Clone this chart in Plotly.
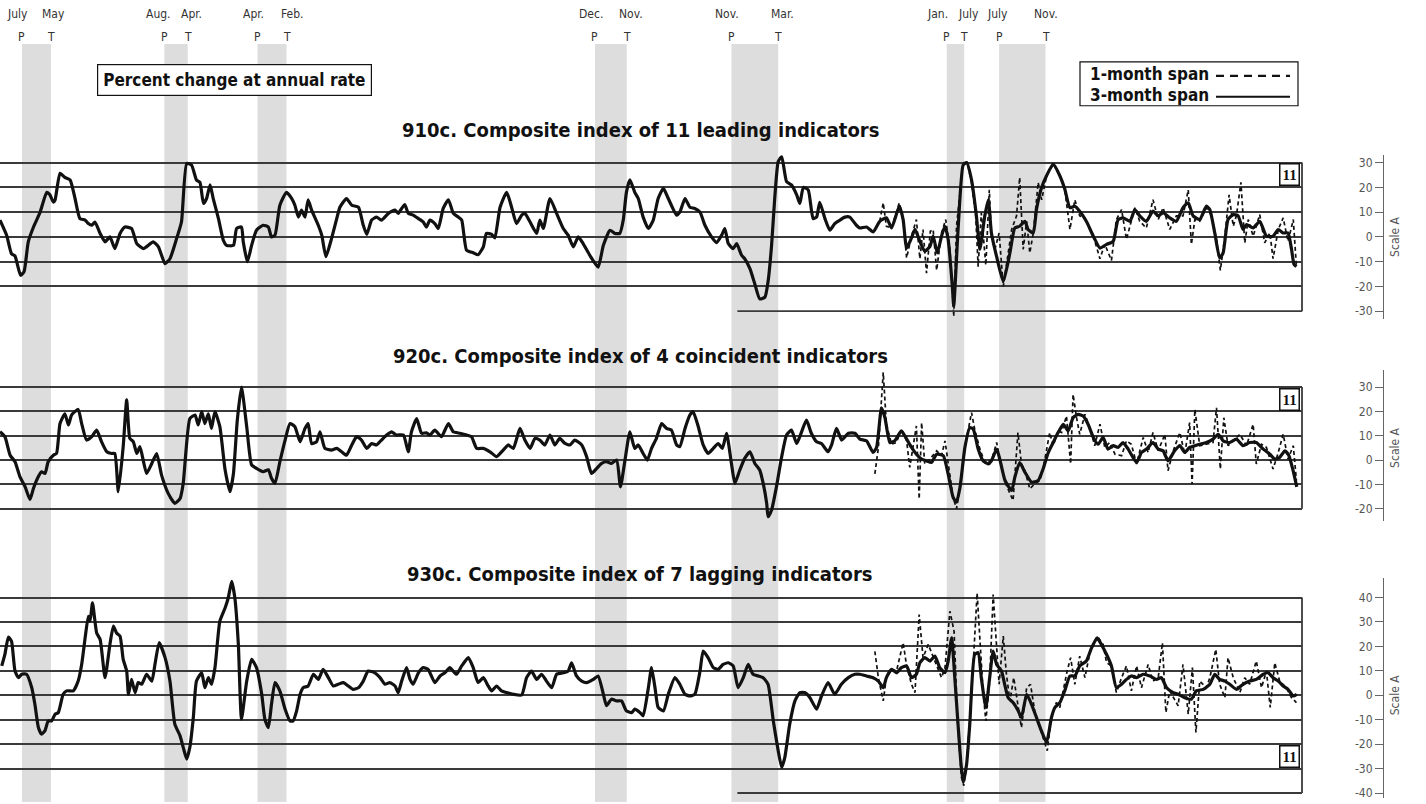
import plotly.graph_objects as go

# ---------------------------------------------------------------- data
# 910c  leading index, 3-month span (percent change at annual rate)
LEAD_3M_DATE = [
    1952.87, 1953.06, 1953.20, 1953.30, 1953.46, 1953.56, 1953.68, 1953.83, 1954.02, 1954.21,
    1954.30, 1954.40, 1954.45, 1954.59, 1954.73, 1954.88, 1955.02, 1955.16, 1955.31, 1955.40,
    1955.50, 1955.59, 1955.74, 1955.88, 1956.02, 1956.16, 1956.31, 1956.45, 1956.64, 1956.79,
    1956.98, 1957.26, 1957.41, 1957.60, 1957.74, 1957.93, 1958.07, 1958.22, 1958.36, 1958.50,
    1958.60, 1958.70, 1958.79, 1958.89, 1958.98, 1959.13, 1959.27, 1959.36, 1959.56, 1959.65,
    1959.79, 1959.84, 1959.96, 1960.08, 1960.22, 1960.41, 1960.56, 1960.65, 1960.75, 1960.89,
    1961.08, 1961.23, 1961.32, 1961.42, 1961.51, 1961.61, 1961.70, 1961.80, 1961.99, 1962.09,
    1962.21, 1962.37, 1962.52, 1962.61, 1962.80, 1962.95, 1963.14, 1963.28, 1963.38, 1963.52,
    1963.66, 1963.80, 1964.00, 1964.19, 1964.28, 1964.38, 1964.47, 1964.57, 1964.71, 1964.86,
    1965.00, 1965.09,
    1965.19, 1965.33, 1965.43, 1965.57, 1965.72, 1965.86, 1966.00, 1966.10, 1966.24, 1966.43,
    1966.57, 1966.72, 1966.81, 1966.96, 1967.05, 1967.20, 1967.39, 1967.53, 1967.67, 1967.82,
    1967.91, 1968.06, 1968.25, 1968.34, 1968.44, 1968.63, 1968.82, 1969.01, 1969.15, 1969.30,
    1969.44, 1969.58, 1969.77, 1970.01, 1970.16, 1970.35, 1970.49, 1970.63, 1970.73, 1970.82,
    1970.92, 1971.06, 1971.16, 1971.30, 1971.45, 1971.59, 1971.73, 1971.88, 1972.02, 1972.26,
    1972.35, 1972.50, 1972.64, 1972.78, 1972.93, 1973.07, 1973.26, 1973.40, 1973.55, 1973.64,
    1973.74, 1973.88, 1973.98, 1974.12, 1974.21, 1974.36, 1974.50, 1974.64, 1974.79, 1974.88,
    1974.98, 1975.07, 1975.17, 1975.27, 1975.41, 1975.55, 1975.70, 1975.79, 1975.89, 1976.03,
    1976.17, 1976.27, 1976.36, 1976.51, 1976.65, 1976.79, 1976.94, 1977.08, 1977.22, 1977.41,
    1977.51, 1977.70, 1977.89, 1978.08, 1978.27, 1978.42, 1978.64, 1978.75, 1978.85, 1978.99,
    1979.09, 1979.23, 1979.37, 1979.52, 1979.61, 1979.73, 1979.85, 1979.95, 1980.04, 1980.16,
    1980.20, 1980.33, 1980.47, 1980.57, 1980.71, 1980.85, 1980.95, 1981.09, 1981.19, 1981.28,
    1981.43, 1981.62, 1981.81, 1981.95, 1982.09, 1982.24, 1982.33, 1982.48, 1982.57, 1982.72,
    1982.86, 1983.05, 1983.24, 1983.38, 1983.53, 1983.67, 1983.81, 1984.00, 1984.20, 1984.39,
    1984.58, 1984.77, 1984.91, 1985.05, 1985.25, 1985.39, 1985.53, 1985.72, 1985.91, 1986.06,
    1986.20, 1986.39, 1986.58, 1986.77, 1986.92, 1987.06, 1987.25, 1987.44, 1987.54, 1987.68,
    1987.82, 1987.92, 1988.06, 1988.21, 1988.35, 1988.49, 1988.59, 1988.78, 1988.97, 1989.16,
    1989.35, 1989.50, 1989.64, 1989.78, 1989.88, 1989.95, 1990.02,
]
LEAD_3M = [
    6.8, 0.7, -6.8, -7.7, -15.5, -14, -2, 4, 10, 18,
    17, 14, 15, 25.7, 24, 23, 15.5, 7.4, 6.8, 5.4,
    4.7, 6, 1.4, -2, 0, -4.7, 1.4, 4, 3.4, -2.7,
    -4.7, -2, -4, -10.8, -8.8, -0.7, 6, 29.7, 29, 23,
    22, 13.5, 15.5, 21, 15.5, 7.4, -1.4, -3.4, -3.4, 3.4,
    4, -2, -10, -3.4, 2.7, 4.7, 4, 0, 0.7, 12.8,
    18, 15.5, 12.8, 8, 10.8, 8, 15, 10.8, 4.7, 0.7,
    -8, -0.7, 7.4, 12, 15.5, 12.8, 12, 4.7, 1, 6.8,
    8, 6.8, 9.5, 10.8, 9.5, 11.5, 13, 9.5, 8.8, 7.4,
    6, 4,
    6.8, 5.4, 3.4, 11.5, 15, 9.5, 8, 6.8, -5.4, -6.4,
    -7.2, -4, 1.4, 1, -0.4, 12, 18, 12, 5.4, 8.8,
    9.5, 6, 1.4, 6.8, 3.4, 15.5, 9.5, 3.4, 0.7, -4,
    0, -2.7, -7.4, -12.2, -3.4, 2.7, 1.4, 1.4, 6.8, 18,
    23, 18, 15.5, 8, 3.4, 6.8, 15.5, 19.6, 15.5, 8.8,
    10, 15.5, 12, 11.5, 10, 4.7, 0, -2.3, 0.7, 3.4,
    -2.7, -4.7, -2.7, -7.4, -8.8, -12.8, -19, -25, -24.3, -18,
    -3.4, 15.5, 30.4, 32.4, 22.3, 21, 17, 13.5, 20, 19,
    7.4, 8, 14, 7.4, 2.7, 5.4, 6.8, 8, 8, 4.7,
    3.6, 4, 2, 6.3, 7.7, 3.6, 12.4, 7, -4.5, -0.4,
    3, -1.8, -5.8, -3.8, 0.3, -6.5, 0.3, 4.3, -1, -20,
    -28, 4.3, 29, 30, 23, 8.5, -5, 8.5, 15, 1.6,
    -8, -18, -6.5, 3.6, 4.3, 6.3, 3, 1.6, 11, 20,
    24.7, 29.4, 24.7, 19.4, 11.8, 12.4, 10.4, 6.3, 0.3, -4.5,
    -3, -1.8, 7, 7.7, 6.3, 11, 8.5, 6.3, 10.4, 8.5,
    9.8, 7.7, 6.3, 11.8, 13.8, 8.5, 7, 12.4, 11, 1.6,
    -8.5, -6.5, 7, 9, 8.5, 3, 5, 3.6, 6.3, 0.3,
    0.3, 3, 1.6, 1.6, -5, -11, -12,
]
# 910c  leading index, 1-month span
LEAD_1M_DATE = [
    1978.08, 1978.18, 1978.27, 1978.42, 1978.64, 1978.75, 1978.85, 1978.99, 1979.13, 1979.23,
    1979.32, 1979.42, 1979.53, 1979.61, 1979.71, 1979.85, 1979.97, 1980.09, 1980.16, 1980.20,
    1980.28, 1980.47, 1980.59, 1980.71, 1980.83, 1980.90, 1980.99, 1981.12, 1981.22, 1981.28,
    1981.38, 1981.50, 1981.62, 1981.73, 1981.86, 1982.00, 1982.09, 1982.19, 1982.29, 1982.38,
    1982.48, 1982.62, 1982.72, 1982.86, 1983.05, 1983.24, 1983.38, 1983.53, 1983.67, 1983.81,
    1983.96, 1984.20, 1984.39, 1984.53, 1984.72, 1984.86, 1985.01, 1985.15, 1985.29, 1985.39,
    1985.53, 1985.72, 1985.91, 1986.06, 1986.20, 1986.39, 1986.58, 1986.77, 1986.92, 1987.01,
    1987.11, 1987.25, 1987.44, 1987.59, 1987.73, 1987.84, 1987.97, 1988.09, 1988.21, 1988.30,
    1988.43, 1988.54, 1988.64, 1988.78, 1988.97, 1989.11, 1989.26, 1989.35, 1989.50, 1989.64,
    1989.78, 1989.93, 1990.02,
]
LEAD_1M = [
    6.3, 13.8, 4.3, 3.6, 13.8, 7, -8.5, 0.3, 7, -8.8,
    3, -14.6, 2.3, 3, -13.5, 1.6, 7, -5, -21, -32,
    4.3, 30, 30, 22, 8.5, -12, 9.7, -11.4, 19, 0.3,
    -5, 1.6, -20, -9, 3, 8.5, 24, -5, 6.3, -6.5,
    1.6, 22, 15, 24.7, 29.4, 24.7, 19.4, 3, 15, 8.5,
    7.7, 0.3, -8.8, -3, -9.5, 7, 11, -1, 6.3, 11.8,
    6.3, 3.6, 15, 7, 11.8, 3, 8.5, 8.5, 19, -3,
    7, 6.3, 11.8, 8.5, -1, -13.5, 0.3, 17, 4.3, 8.5,
    22, -2.4, 7, 0.3, 9, -2.4, 1.6, -8.8, 3, 7.7,
    -1.8, 7, -12,
]

# 920c  coincident index, 3-month span
COIN_3M_DATE = [
    1952.87, 1953.01, 1953.16, 1953.30, 1953.44, 1953.59, 1953.73, 1953.83, 1953.97, 1954.06,
    1954.16, 1954.25, 1954.40, 1954.49, 1954.59, 1954.73, 1954.83, 1954.92, 1955.11, 1955.21,
    1955.35, 1955.50, 1955.64, 1955.78, 1955.93, 1956.07, 1956.16, 1956.26, 1956.40, 1956.50,
    1956.59, 1956.69, 1956.79, 1956.88, 1957.07, 1957.22, 1957.36, 1957.50, 1957.69, 1957.88,
    1958.03, 1958.12, 1958.31, 1958.46, 1958.55, 1958.65, 1958.74, 1958.84, 1958.93, 1959.03,
    1959.17, 1959.32, 1959.46, 1959.56, 1959.67, 1959.79, 1959.94, 1960.08, 1960.22, 1960.41,
    1960.56, 1960.65, 1960.75, 1960.89, 1961.04, 1961.18, 1961.32, 1961.47, 1961.61, 1961.70,
    1961.80, 1961.94, 1962.04, 1962.18, 1962.37, 1962.52, 1962.66, 1962.80, 1962.95, 1963.09,
    1963.23, 1963.38, 1963.52, 1963.66, 1963.80, 1963.95, 1964.09, 1964.23, 1964.43, 1964.57,
    1964.66, 1964.81, 1964.95, 1965.09,
    1965.19, 1965.33, 1965.52, 1965.72, 1965.86, 1966.05, 1966.24, 1966.38, 1966.53, 1966.72,
    1966.91, 1967.10, 1967.29, 1967.43, 1967.58, 1967.77, 1967.91, 1968.06, 1968.20, 1968.34,
    1968.48, 1968.63, 1968.77, 1968.91, 1969.06, 1969.20, 1969.34, 1969.54, 1969.68, 1969.82,
    1969.97, 1970.11, 1970.25, 1970.39, 1970.54, 1970.65, 1970.78, 1970.92, 1971.06, 1971.16,
    1971.30, 1971.42, 1971.54, 1971.68, 1971.83, 1971.97, 1972.11, 1972.26, 1972.35, 1972.50,
    1972.64, 1972.73, 1972.88, 1973.02, 1973.16, 1973.31, 1973.45, 1973.57, 1973.69, 1973.83,
    1973.93, 1974.07, 1974.21, 1974.36, 1974.50, 1974.64, 1974.74, 1974.84, 1974.88, 1974.98,
    1975.12, 1975.27, 1975.41, 1975.55, 1975.70, 1975.84, 1975.98, 1976.12, 1976.27, 1976.41,
    1976.60, 1976.70, 1976.84, 1976.99, 1977.18, 1977.37,
    1977.51, 1977.70, 1977.89, 1977.99, 1978.13, 1978.23, 1978.37, 1978.51, 1978.70, 1978.85,
    1978.99, 1979.13, 1979.28, 1979.42, 1979.56, 1979.71, 1979.90, 1980.04, 1980.18, 1980.28,
    1980.38, 1980.52, 1980.66, 1980.76, 1980.90, 1981.04, 1981.19, 1981.28, 1981.43, 1981.52,
    1981.67, 1981.86, 1981.95, 1982.09, 1982.24, 1982.43, 1982.62, 1982.76, 1982.91, 1983.05,
    1983.19, 1983.34, 1983.48, 1983.62, 1983.77, 1983.91, 1984.05, 1984.20, 1984.34, 1984.48,
    1984.62, 1984.77, 1984.91, 1985.05, 1985.20, 1985.44, 1985.58, 1985.72, 1985.91, 1986.06,
    1986.20, 1986.34, 1986.53, 1986.68, 1986.82, 1986.96, 1987.11, 1987.25, 1987.44, 1987.63,
    1987.78, 1987.92, 1988.11, 1988.30, 1988.49, 1988.68, 1988.87, 1989.07, 1989.26, 1989.40,
    1989.54, 1989.69, 1989.80, 1989.92, 1990.03,
]
COIN_3M = [
    11.6, 9.6, 2, -0.7, -6.8, -11, -16.2, -11.6, -6.8, -4.8,
    -5.5, -0.7, 2, 2.7, 15, 19, 14.4, 18.5, 20.8, 15,
    8.2, 9.6, 12.3, 7.5, 3.4, 2.7, 2.7, -13, 5.5, 24.7,
    8.9, 7.5, 2.7, 5.5, -5.5, -1.4, 2.7, -6.2, -13.7, -17.8,
    -15.8, -9.6, 17, 18.5, 14.4, 19.9, 15, 19, 13, 19.9,
    13.7, -4, -13, -5.5, 16.4, 30, 13.7, -2, -3.4, -4.8,
    -4, -7.5, -9.6, -0.7, 8.2, 15, 13.7, 7.5, 13, 15,
    6.8, 7.5, 11.6, 4.8, 4.1, 4.8, 3.4, 2, 6.2, 9.6,
    8.2, 4.8, 6.8, 6.2, 8.2, 10.3, 11.6, 10.3, 10.3, 3.4,
    11.6, 17, 11, 11.2,
    10.3, 12.3, 9.6, 15, 11.6, 11, 10.3, 9.6, 4.8, 4.8,
    3.4, 1.4, 4.1, 6.2, 4.8, 13, 8.2, 4.8, 8.9, 8.2,
    6.2, 10.3, 6.2, 8.9, 6.8, 6.2, 8.2, 6.2, 1.4, -5.5,
    -3.4, -1.4, -0.7, -1.4, 0, -11, 0, 11.6, 4.8, 6.2,
    2.7, 0, 4.8, 8.9, 15, 13, 12.3, 6.2, 5.5, 13,
    18.5, 19.9, 13.7, 6.2, 2.7, 4.8, 6.8, 4.8, 11, -1.4,
    -9.6, -4.1, 0.7, 3.4, -1.4, -4.1, -9.6, -17.8, -23.3, -20.5,
    -11, 1.4, 10.3, 12.3, 6.8, 11.6, 16.4, 11, 7.5, 6.8,
    3.4, 6.2, 13, 8.2, 11, 11,
    8.6, 7.9, 3.1, 5.2, 21.5, 17.4, 7.2, 7.9, 12, 8.6,
    5.2, 2.4, 0.4, -0.3, -1, 2.4, 1.8, -5.7, -15.2, -17.3,
    -11.2, 5.2, 13.3, 12.7, 4.5, -0.3, -1.6, -0.3, 4.5, 0.4,
    -8.4, -12.5, -7.1, -1, -5, -9.1, -8.4, -3.7, 3.1, 7.2,
    11.3, 14.7, 12, 17.4, 18.8, 18.1, 14.7, 9.3, 6.5, 9.3,
    4.5, 5.9, 5.2, 7.2, 4.5, -1, 3.1, 4.5, 7.2, 4.5,
    3.8, -0.3, 3.8, 5.9, 3.1, 5.2, 5.9, 6.5, 7.2, 8.6,
    10.6, 7.9, 7.2, 8.6, 5.9, 7.2, 7.2, 4.5, 2.4, 0.4,
    1.1, 3.8, 2, -4, -11,
]
# 920c  coincident index, 1-month span
COIN_1M_DATE = [
    1977.94, 1978.04, 1978.18, 1978.27, 1978.42, 1978.56, 1978.70, 1978.85, 1978.94, 1979.04,
    1979.13, 1979.21, 1979.28, 1979.37, 1979.52, 1979.71, 1979.85, 1979.95, 1980.09, 1980.18,
    1980.28, 1980.38, 1980.52, 1980.71, 1980.80, 1980.95, 1981.09, 1981.28, 1981.43, 1981.52,
    1981.67, 1981.90, 1982.04, 1982.14, 1982.24, 1982.38, 1982.52, 1982.67, 1982.76, 1982.95,
    1983.05, 1983.19, 1983.29, 1983.43, 1983.55, 1983.62, 1983.72, 1983.81, 1983.96, 1984.10,
    1984.24, 1984.39, 1984.53, 1984.67, 1984.82, 1985.01, 1985.15, 1985.29, 1985.44, 1985.63,
    1985.77, 1985.91, 1986.06, 1986.25, 1986.34, 1986.49, 1986.68, 1986.82, 1986.96, 1987.03,
    1987.11, 1987.25, 1987.44, 1987.63, 1987.73, 1987.84, 1987.94, 1988.06, 1988.21, 1988.40,
    1988.59, 1988.78, 1988.87, 1989.02, 1989.16, 1989.35, 1989.50, 1989.64, 1989.78, 1989.93,
    1990.02,
]
COIN_1M = [
    -5.7, 5.0, 36, 14.7, 6.5, 7.2, 12.7, 7.9, -3, 5.9,
    14, -16, 15.4, -1.6, 0.4, 3.8, 1.8, 7.9, -7, -15.2,
    -20, -11.2, 5.2, 19.5, 12.7, 4.5, -1, -0.3, 7.2, 0.4,
    -9.1, -16.6, 11.3, -1.6, -4.4, -11.8, -9.8, -8.4, -3.7, 11.3,
    5.9, 12, 11.3, 18.1, -1.6, 27, 17.4, 10.6, 18.8, 13.3,
    5.9, 14.7, 5.2, 7.2, 2.4, 1.8, 7.9, 6.5, -1.6, 9.3,
    3.1, 11.3, 3.8, 10.6, -4.4, 3.8, 11.3, 2.4, 15.4, -9.8,
    20.8, 5.9, 6.5, 7.2, 21.5, -3.7, 17.4, 5.9, 7.9, 10.6,
    5.9, 14.7, -1.6, 6.5, 5.2, -3.7, 3.1, 10.6, 0.4, 5.9,
    -8.4,
]

# 930c  lagging index, 3-month span
LAG_3M_DATE = [
    1952.92, 1953.01, 1953.11, 1953.20, 1953.30, 1953.40, 1953.49, 1953.63, 1953.78, 1953.87,
    1953.97, 1954.06, 1954.16, 1954.25, 1954.35, 1954.45, 1954.54, 1954.68, 1954.78, 1954.97,
    1955.11, 1955.21, 1955.31, 1955.40, 1955.45, 1955.52, 1955.64, 1955.74, 1955.88, 1956.02,
    1956.12, 1956.21, 1956.31, 1956.40, 1956.50, 1956.55, 1956.64, 1956.74, 1956.83, 1956.93,
    1957.07, 1957.22, 1957.31, 1957.43, 1957.60, 1957.74, 1957.88, 1958.03, 1958.12, 1958.22,
    1958.31, 1958.41, 1958.50, 1958.65, 1958.74, 1958.84, 1958.93, 1959.03, 1959.17, 1959.32,
    1959.41, 1959.51, 1959.60, 1959.70, 1959.79, 1959.94, 1960.08, 1960.22, 1960.37, 1960.46,
    1960.56, 1960.65, 1960.75, 1960.89, 1961.04, 1961.18, 1961.27, 1961.37, 1961.47, 1961.56,
    1961.70, 1961.85, 1961.99, 1962.13, 1962.28, 1962.42, 1962.56, 1962.71, 1962.85, 1962.99,
    1963.14, 1963.28, 1963.42, 1963.61, 1963.76, 1963.90, 1964.04, 1964.19, 1964.28, 1964.38,
    1964.52, 1964.62, 1964.71, 1964.86, 1965.00, 1965.14,
    1965.19, 1965.33, 1965.48, 1965.62, 1965.76, 1965.95, 1966.10, 1966.29, 1966.43, 1966.57,
    1966.72, 1966.86, 1966.96, 1967.10, 1967.24, 1967.39, 1967.58, 1967.82, 1967.96, 1968.10,
    1968.25, 1968.39, 1968.53, 1968.68, 1968.82, 1969.01, 1969.15, 1969.25, 1969.39, 1969.54,
    1969.68, 1969.87, 1970.01, 1970.16, 1970.25, 1970.39, 1970.54, 1970.68, 1970.82, 1970.97,
    1971.06, 1971.21, 1971.30, 1971.45, 1971.54, 1971.64, 1971.73, 1971.88, 1972.02, 1972.21,
    1972.35, 1972.50, 1972.64, 1972.78, 1972.93, 1973.02, 1973.16, 1973.31, 1973.45, 1973.59,
    1973.74, 1973.88, 1974.02, 1974.17, 1974.31, 1974.45, 1974.60, 1974.74, 1974.88, 1975.03,
    1975.17, 1975.27, 1975.36, 1975.50, 1975.65, 1975.79, 1975.93, 1976.08, 1976.27, 1976.41,
    1976.60, 1976.79, 1976.98, 1977.18, 1977.37,
    1977.51, 1977.70, 1977.89, 1978.04, 1978.18, 1978.27, 1978.42, 1978.56, 1978.70, 1978.85,
    1978.99, 1979.13, 1979.23, 1979.37, 1979.52, 1979.66, 1979.80, 1979.95, 1980.04, 1980.14,
    1980.23, 1980.33, 1980.40, 1980.47, 1980.57, 1980.66, 1980.80, 1980.90, 1980.99, 1981.12,
    1981.23, 1981.33, 1981.43, 1981.57, 1981.66, 1981.76, 1981.90, 1982.05, 1982.14, 1982.29,
    1982.43, 1982.57, 1982.71, 1982.86, 1983.00, 1983.10, 1983.24, 1983.38, 1983.53, 1983.67,
    1983.81, 1984.00, 1984.15, 1984.31, 1984.43, 1984.58, 1984.72, 1984.86, 1985.01, 1985.15,
    1985.29, 1985.44, 1985.63, 1985.82, 1986.01, 1986.15, 1986.30, 1986.49, 1986.63, 1986.82,
    1987.01, 1987.15, 1987.35, 1987.54, 1987.68, 1987.82, 1987.97, 1988.11, 1988.30, 1988.49,
    1988.68, 1988.87, 1989.07, 1989.21, 1989.35, 1989.50, 1989.64, 1989.78, 1989.93, 1990.03,
]
LAG_3M = [
    12, 16.7, 23.8, 22.1, 9.9, 7.2, 8.6, 8.6, 3.1, -3.7,
    -13.2, -15.9, -14.5, -10.5, -10.5, -7.7, -7.1, 0.4, 1.8, 1.8,
    5.8, 12.6, 23.5, 32.3, 30.3, 37.8, 25.5, 22.8, 7.2, 20.8,
    28.3, 25.5, 24.2, 14.7, 9.9, 0.4, 6.5, 1.1, 5.2, 4.5,
    8.6, 5.8, 12.6, 21.5, 15.4, 5.8, -11.8, -16.6, -21.3, -26.1,
    -21.3, -9.1, 5.8, 9.2, 3.1, 7.2, 4.5, 11.3, 30.3, 35.7,
    39.8, 46.6, 39.8, 20.8, -9.8, 5.8, 14.7, 11.3, 0.4, -9.8,
    -13.2, -3.7, 5.2, 1.8, -5.7, -10.5, -10.5, -6.4, 0.4, 3.1,
    3.8, 8.6, 6.5, 10.6, 7.2, 3.8, 4.5, 5.2, 3.8, 2.4,
    3.1, 5.8, 9.9, 9.2, 7.2, 4.5, 5.2, 3.8, 1.1, 5.8,
    11.3, 6.5, 4.5, 9.2, 11.3, 10.6,
    9.2, 5.2, 7.9, 9.2, 11.3, 8.6, 12, 15.4, 11.3, 5.2,
    7.2, 3.8, 1.8, 3.8, 1.8, 1.1, 0.4, 0.1, 7.2, 9.9,
    6.5, 8.6, 5.8, 3.1, 8.6, 9.2, 9.9, 13.3, 7.9, 5.8,
    5.2, 6.5, 7.9, 0.4, -4.3, -1.6, -2.3, -2.3, -6.4, -7.1,
    -5.7, -7.1, -8.4, 3.1, 11.3, 3.1, -5, -6.4, 0.4, 7.2,
    4.5, 0.4, -0.3, 0.4, 9.9, 18.1, 15.4, 11.3, 10.6, 12.6,
    13.3, 12, 3.1, 7.2, 12.6, 8.6, 7.9, 7.2, 4.5, -10.5,
    -22.7, -29.5, -25.4, -11.8, -2.3, 1.1, 1.1, -1, -5.7, -0.3,
    5.2, 0.4, 4.5, 7.2, 8.6,
    8.6, 7.9, 7.2, 5.8, 3.1, 7.2, 10.6, 9.2, 11.3, 12,
    7.2, 8.6, 13.3, 15.4, 14, 16, 11.3, 9.2, 14, 23.5,
    7.2, -13.2, -26.8, -35.6, -28.1, -11.8, 16.7, 17.4, 7.2, -5,
    7.2, 18.1, 12.6, 9.9, 4.5, -1, -3, -6.4, -9.1, 0.4,
    -3.7, -9.1, -14.5, -19.3, -9.1, -5, -3, 1.8, 7.9, 7.9,
    12, 14, 19.4, 23.5, 20.8, 16.7, 12, 3.1, 4.5, 6.5,
    7.9, 7.2, 8.6, 7.9, 6.5, 7.2, 3.1, 1.1, 0.4, -1,
    -1.6, 1.8, 2.4, 4.5, 8.6, 6.5, 5.8, 4.5, 2.4, 4.5,
    5.8, 6.5, 8.6, 9.2, 7.2, 5.8, 3.8, 2.4, -0.3, 0.4,
]
# 930c  lagging index, 1-month span
LAG_1M_DATE = [
    1977.94, 1978.04, 1978.18, 1978.27, 1978.42, 1978.56, 1978.75, 1978.85, 1978.99, 1979.09,
    1979.21, 1979.32, 1979.47, 1979.61, 1979.75, 1979.85, 1979.95, 1980.09, 1980.21, 1980.31,
    1980.42, 1980.49, 1980.57, 1980.71, 1980.87, 1980.95, 1981.04, 1981.12, 1981.23, 1981.33,
    1981.43, 1981.50, 1981.62, 1981.71, 1981.81, 1981.92, 1982.05, 1982.14, 1982.29, 1982.40,
    1982.52, 1982.71, 1982.88, 1983.00, 1983.14, 1983.24, 1983.35, 1983.45, 1983.55, 1983.67,
    1983.81, 1983.96, 1984.10, 1984.31, 1984.48, 1984.58, 1984.72, 1984.86, 1985.01, 1985.15,
    1985.29, 1985.44, 1985.58, 1985.77, 1985.91, 1986.06, 1986.18, 1986.28, 1986.39, 1986.63,
    1986.77, 1986.92, 1987.04, 1987.14, 1987.25, 1987.44, 1987.54, 1987.71, 1987.82, 1987.97,
    1988.06, 1988.21, 1988.40, 1988.54, 1988.68, 1988.87, 1989.02, 1989.16, 1989.27, 1989.40,
    1989.54, 1989.73, 1989.88, 1990.02,
]
LAG_1M = [
    18, 7.2, -2.3, 7.2, 10.6, 9.9, 21.5, 12, 4.5, 1.1,
    33, 15.4, 20.8, 16, 10.6, 7.2, 11.3, 34.4, 26.2, -10.5,
    -33.6, -37, -28.1, 0.4, 41.8, 22.1, 1.8, -10.5, 5.8, 41.2,
    18.1, 4.5, 24.2, 8.6, -2.3, 7.2, -5, -13.2, 3.1, 4.5,
    -6.4, -14.5, -22.7, -9.1, -3, -5, 3.1, 9.9, 15.4, 4.5,
    16, 7.2, 17.4, 24.2, 20.8, 13.3, 12, 1.1, 7.2, 12,
    1.8, 12, 3.1, 12.6, 5.8, 7.2, 21.5, -7.1, 1.8, -4.3,
    12.6, -7.7, 11.3, -15.2, 5.8, 3.1, 7.2, 18.8, 4.5, -1,
    15.4, 7.2, 1.1, 7.2, 4.5, 14, 3.1, 9.9, -5, 13.3,
    5.8, 3.1, -1, -3,
]

# business-cycle peaks (P) and troughs (T)
PEAK_DATES = [1953.50, 1957.58, 1960.25, 1969.92, 1973.83, 1980.00, 1981.50]
TROUGH_DATES = [1954.33, 1958.25, 1961.08, 1970.83, 1975.17, 1980.50, 1982.83]
PEAK_MONTHS = ["July", "Aug.", "Apr.", "Dec.", "Nov.", "Jan.", "July"]
TROUGH_MONTHS = ["May", "Apr.", "Feb.", "Nov.", "Mar.", "July", "Nov."]

PANEL_TITLES = [
    "910c. Composite index of 11 leading indicators",
    "920c. Composite index of 4 coincident indicators",
    "930c. Composite index of 7 lagging indicators",
]
GRID_TICKS = [[-20, -10, 0, 10, 20, 30], [-20, -10, 0, 10, 20, 30],
              [-30, -20, -10, 0, 10, 20, 30, 40]]
SCALE_TICKS = [[-30, -20, -10, 0, 10, 20, 30], [-20, -10, 0, 10, 20, 30],
               [-40, -30, -20, -10, 0, 10, 20, 30, 40]]
PANEL_RANGES = [[-33, 33], [-25, 37], [-42, 48]]
PARTIAL_LINES = [(-30, 1974.0), None, (-40, 1974.0)]   # lower lines drawn only from 1974

# ---------------------------------------------------------------- layout helpers
W, H = 1426, 804
X_RANGE = [1952.87, 1990.18]
X_RIGHT_PX = 1302
FONT = "DejaVu Sans Condensed, Liberation Sans Narrow, Arial Narrow, Roboto, sans-serif"
INK = "#111111"
GRID = "#3a3a3a"
LABEL = "#333333"

# pixel anchors (top grid px, top value, bottom grid px, bottom value)
PANEL_PX = [(163, 30, 312, -30), (388, 30, 510, -20), (599, 40, 795, -40)]
TITLE_PX = [130, 357, 575]
BOX11_PX = [175, 400, 758]


def domain(rng, anchor):
    p_hi, v_hi, p_lo, v_lo = anchor
    s = (p_lo - p_hi) / (v_hi - v_lo)
    top = p_hi - (rng[1] - v_hi) * s
    bot = p_lo + (v_lo - rng[0]) * s
    return [1 - bot / H, 1 - top / H]


def fy(px):
    return 1 - px / H


def fx(px):
    return px / W


fig = go.Figure()

series = [
    (LEAD_1M_DATE, LEAD_1M, LEAD_3M_DATE, LEAD_3M),
    (COIN_1M_DATE, COIN_1M, COIN_3M_DATE, COIN_3M),
    (LAG_1M_DATE, LAG_1M, LAG_3M_DATE, LAG_3M),
]
ynames = ["y", "y2", "y3"]
for i, (d1, v1, d3, v3) in enumerate(series):
    fig.add_trace(go.Scatter(x=d1, y=v1, yaxis=ynames[i], mode="lines",
                             line=dict(color=INK, width=1.7, dash="4px,3px"),
                             showlegend=False, hoverinfo="skip"))
    fig.add_trace(go.Scatter(x=d3, y=v3, yaxis=ynames[i], mode="lines",
                             line=dict(color=INK, width=3.2, shape="spline", smoothing=0.5),
                             showlegend=False, hoverinfo="skip"))
    # dummy trace so the right-hand "Scale A" axis is always drawn
    fig.add_trace(go.Scatter(x=[None], y=[None], yaxis="y%d" % (i + 4),
                             showlegend=False, hoverinfo="skip"))

layout = dict(
    width=W, height=H,
    margin=dict(l=0, r=0, t=0, b=0),
    paper_bgcolor="white", plot_bgcolor="rgba(0,0,0,0)",
    showlegend=False,
    font=dict(family=FONT, color=INK),
    xaxis=dict(domain=[0, X_RIGHT_PX / W], range=X_RANGE, visible=False, fixedrange=True),
)
for i in range(3):
    key = "yaxis" if i == 0 else "yaxis%d" % (i + 1)
    dom = domain(PANEL_RANGES[i], PANEL_PX[i])
    layout[key] = dict(domain=dom, range=PANEL_RANGES[i], anchor="x",
                       tickvals=GRID_TICKS[i], showticklabels=False, ticks="",
                       showgrid=True, gridcolor=GRID, gridwidth=1.8,
                       zeroline=False, showline=False, fixedrange=True)
    layout["yaxis%d" % (i + 4)] = dict(
        overlaying=ynames[i], anchor="free", position=fx(1383), side="left",
        range=PANEL_RANGES[i], tickvals=SCALE_TICKS[i],
        ticktext=[str(t) for t in SCALE_TICKS[i]],
        ticks="outside", ticklen=8, tickwidth=1, tickcolor="#666",
        showline=True, linecolor="#666", linewidth=1,
        showgrid=False, zeroline=False, fixedrange=True,
        tickfont=dict(family=FONT, size=12, color="#555"))
fig.update_layout(**layout)

shapes = []
annotations = []


def label(x, y, text, xref="paper", size=12, color=LABEL, **kw):
    d = dict(x=x, y=y, xref=xref, yref="paper", text=text, showarrow=False,
             yanchor="middle", font=dict(family=FONT, size=size, color=color))
    d.update(kw)
    annotations.append(d)


# recession shading and P / T markers
for p, t in zip(PEAK_DATES, TROUGH_DATES):
    shapes.append(dict(type="rect", xref="x", yref="paper", x0=p, x1=t,
                       y0=0, y1=fy(44), fillcolor="#cfcfcf", opacity=0.7,
                       line=dict(width=0), layer="below"))
    label(p, fy(37), "P", xref="x")
    label(t, fy(37), "T", xref="x")

month_shift_p = [-4, -6, -4, -4, -4, -9, -2]
month_shift_t = [3, 4, 5, 4, 4, 4, 0]
for i in range(len(PEAK_DATES)):
    label(PEAK_DATES[i], fy(14), PEAK_MONTHS[i], xref="x", xshift=month_shift_p[i])
    label(TROUGH_DATES[i], fy(14), TROUGH_MONTHS[i], xref="x", xshift=month_shift_t[i])

for i in range(3):
    yr = ynames[i]
    rng_lo = min(SCALE_TICKS[i])
    rng_hi = max(SCALE_TICKS[i])
    # right border of the panel
    shapes.append(dict(type="line", xref="x domain", yref=yr, x0=1, x1=1,
                       y0=rng_lo, y1=rng_hi, line=dict(color=GRID, width=1.8)))
    if PARTIAL_LINES[i]:
        v, start = PARTIAL_LINES[i]
        shapes.append(dict(type="line", xref="x", yref=yr, x0=start, x1=X_RANGE[1],
                           y0=v, y1=v, line=dict(color=GRID, width=1.8)))
    # panel titles
    label(fx(640), fy(TITLE_PX[i]), "<b>%s</b>" % PANEL_TITLES[i], size=20, color=INK)
    # "11" marker boxes
    annotations.append(dict(x=fx(1300), y=fy(BOX11_PX[i]), xref="paper", yref="paper",
                            xanchor="right", yanchor="middle", text="<b>11</b>",
                            showarrow=False, bordercolor=INK, borderwidth=1.5,
                            borderpad=2, bgcolor="white",
                            font=dict(family="Liberation Serif, DejaVu Serif, serif",
                                      size=15, color=INK)))
    # "Scale A"
    mid = (PANEL_PX[i][0] + PANEL_PX[i][2]) / 2
    label(fx(1404), fy(mid), "Scale A", textangle=-90, color="#555")

# "Percent change at annual rate" box
annotations.append(dict(x=fx(97), y=fy(80), xref="paper", yref="paper", xanchor="left",
                        yanchor="middle", text="<b>Percent change at annual rate</b>",
                        showarrow=False, bordercolor=INK, borderwidth=1.2, borderpad=5,
                        bgcolor="white", font=dict(family=FONT, size=17, color=INK)))

# legend box
shapes.append(dict(type="rect", xref="paper", yref="paper", x0=fx(1080), x1=fx(1298),
                   y0=fy(106), y1=fy(62), line=dict(color=INK, width=1.2),
                   fillcolor="white", layer="above"))
label(fx(1088), fy(74), "<b>1-month span</b>", size=17, color=INK, xanchor="left")
label(fx(1088), fy(95), "<b>3-month span</b>", size=17, color=INK, xanchor="left")
shapes.append(dict(type="line", xref="paper", yref="paper", x0=fx(1216), x1=fx(1290),
                   y0=fy(76), y1=fy(76), line=dict(color=INK, width=2.2, dash="8px,6px")))
shapes.append(dict(type="line", xref="paper", yref="paper", x0=fx(1216), x1=fx(1290),
                   y0=fy(97), y1=fy(97), line=dict(color=INK, width=2.2)))

fig.update_layout(shapes=shapes, annotations=annotations)
fig.write_html("out.html", config={"displayModeBar": False},
               post_script="document.body.style.margin='0';document.body.style.padding='0';")
